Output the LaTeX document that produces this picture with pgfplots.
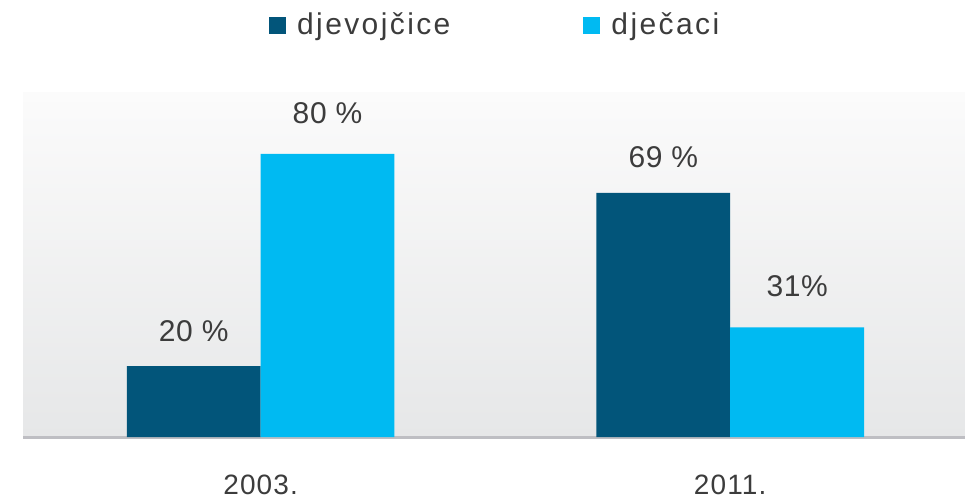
\documentclass[border=0pt]{standalone}
\usepackage{fontspec}
\setmainfont{Liberation Sans}
\newfontfamily\legfont[LetterSpace=8]{Liberation Sans}
\newfontfamily\numfont[LetterSpace=2]{Liberation Sans}
\newfontfamily\tickfont[LetterSpace=4]{Liberation Sans}
\usepackage{pgfplots}
\pgfplotsset{compat=1.18}
\definecolor{darkc}{HTML}{02557A}
\definecolor{lightc}{HTML}{00BAF2}
\definecolor{textc}{HTML}{3C3C3C}
\definecolor{axc}{HTML}{BEBEC3}
\definecolor{bgtop}{HTML}{FBFBFB}
\definecolor{bgbot}{HTML}{E6E7E8}
\begin{document}
\begin{tikzpicture}
\useasboundingbox (-23pt,-63pt) rectangle (942pt,437pt);
\begin{axis}[
  at={(0pt,0pt)}, anchor=south west,
  scale only axis, width=942pt, height=344pt,
  xmin=-0.506, xmax=1.5, ymin=0, ymax=97.2,
  ybar=0pt, bar width=0.285,
  axis background/.style={top color=bgtop, bottom color=bgbot},
  axis x line=bottom, axis y line=none,
  x axis line style={draw=axc, line width=3pt, -},
  xtick={0,1}, xticklabels={2003.,2011.}, major tick length=0pt,
  xticklabel style={font=\tickfont\fontsize{28}{30}\selectfont, text=textc, inner sep=0pt, yshift=-38pt},
  point meta=explicit symbolic,
  nodes near coords,
  every node near coord/.append style={font=\numfont\fontsize{30}{32}\selectfont, text=textc, anchor=south, inner sep=0pt},
  legend columns=2,
  legend style={draw=none, fill=none, inner sep=0pt, at={(0.2611,1.2355)}, anchor=north west,
    cells={anchor=base west},
    nodes={inner sep=0pt, text height=22pt, text depth=0pt}, font=\legfont\fontsize{30}{32}\selectfont, text=textc,
    /tikz/every odd column/.append style={column sep=11pt},
    /tikz/every even column/.append style={column sep=133pt}},
]
\addplot[fill=darkc, draw=none,
  every node near coord/.append style={yshift=24.5pt},
  legend image code/.code={\fill[darkc] (0pt,0pt) rectangle (17pt,17pt);}]
  coordinates {(0,20) [20 \%] (1,69) [69 \%]};
\addplot[fill=lightc, draw=none,
  every node near coord/.append style={yshift=30pt},
  legend image code/.code={\fill[lightc] (0pt,0pt) rectangle (17pt,17pt);}]
  coordinates {(0,80) [80 \%] (1,31) [31\%]};
\legend{djevojčice, dječaci}
\end{axis}
\end{tikzpicture}
\end{document}
